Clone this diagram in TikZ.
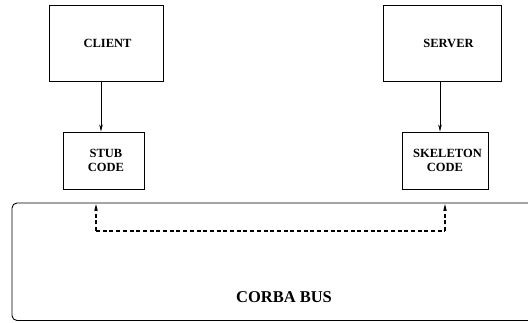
\documentclass[tikz,border=0pt]{standalone}
\usepackage{fontspec}
\setmainfont{Liberation Serif}
\usetikzlibrary{arrows.meta}
\begin{document}
\begin{tikzpicture}[x=1pt,y=-1pt,
  box/.style={draw,line width=0.9pt,rectangle,inner sep=0pt,font=\fontsize{12.5}{14}\selectfont\bfseries,align=center},
  arr/.style={line width=0.9pt,-{Stealth[length=7pt,width=3.5pt,inset=2pt]}},
  darr/.style={line width=1.2pt,dash pattern=on 4pt off 2.7pt,-{Stealth[length=7pt,width=3.5pt,inset=2pt]}}]
\useasboundingbox (0,0) rectangle (528,322);
\clip (0,0) rectangle (528,322);
\node[box,minimum width=114pt,minimum height=76pt] (client) at (106,43) {\hspace*{3pt}CLIENT};
\node[box,minimum width=118pt,minimum height=76pt] (server) at (442,43) {\hspace*{13pt}SERVER};
\node[box,minimum width=81pt,minimum height=57pt] (stub) at (103.5,160.5) {\hspace*{5pt}STUB\\\hspace*{5pt}CODE};
\node[box,minimum width=86pt,minimum height=57pt] (skel) at (445,160.5) {\hspace*{5pt}SKELETON\\CODE};
\draw[line width=0.9pt,rounded corners=5pt] (12,203) rectangle (540,320.5);
\node[font=\fontsize{16.5}{18}\selectfont\bfseries] (bus) at (284,297) {CORBA BUS};
\coordinate (bl) at (96,231);
\coordinate (br) at (445,231);
\coordinate (tl) at (96,204);
\coordinate (tr) at (445,204);
\draw[arr] ([xshift=-5pt]client.south) -- ([xshift=-5pt]client.south |- stub.north);
\draw[arr] ([xshift=-2pt]server.south) -- ([xshift=-2pt]server.south |- skel.north);
\draw[darr] (bl) -- (tl);
\draw[darr] (br) -- (tr);
\draw[line width=1.2pt,dash pattern=on 4pt off 2.7pt] (bl) -- (br);
\end{tikzpicture}
\end{document}
